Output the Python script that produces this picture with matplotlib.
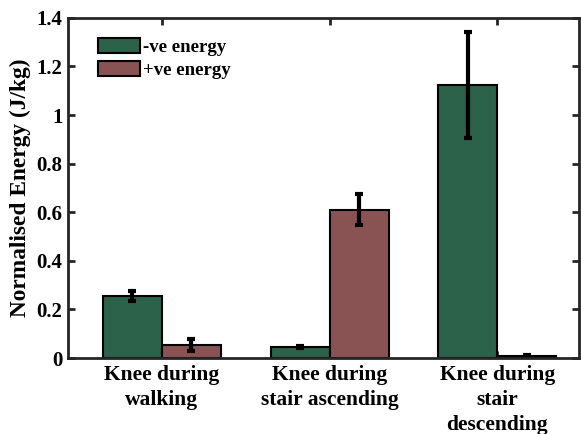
import matplotlib
matplotlib.use("Agg")
import matplotlib.pyplot as plt
import numpy as np

categories = ["Knee during\nwalking", "Knee during\nstair ascending", "Knee during\nstair\ndescending"]
series_names = ["-ve energy", "+ve energy"]
neg_energy = [0.255, 0.045, 1.123]
neg_err = [0.021, 0.005, 0.217]
pos_energy = [0.055, 0.610, 0.008]
pos_err = [0.025, 0.064, 0.006]
y_ticks = [0, 0.2, 0.4, 0.6, 0.8, 1, 1.2, 1.4]
y_tick_labels = ["0", "0.2", "0.4", "0.6", "0.8", "1", "1.2", "1.4"]

green = "#2b6249"
red = "#8a5353"
spine_col = "#262626"

plt.rcParams["font.family"] = ["Liberation Serif", "DejaVu Serif"]
plt.rcParams["font.weight"] = "bold"

fig = plt.figure(figsize=(5.81, 4.34), dpi=100)
ax = fig.add_axes([0.117, 0.175, 0.880, 0.784])

x = np.arange(1, len(categories) + 1)
w = 0.352
err_kw = dict(ecolor="black", elinewidth=3, capsize=3, capthick=3)
ax.bar(x - w / 2, neg_energy, w, color=green, edgecolor="black", linewidth=1.5,
       yerr=neg_err, error_kw=err_kw, label=series_names[0], zorder=2)
ax.bar(x + w / 2, pos_energy, w, color=red, edgecolor="black", linewidth=1.5,
       yerr=pos_err, error_kw=err_kw, label=series_names[1], zorder=2)

ax.set_xlim(0.439, 3.49)
ax.set_ylim(0, 1.4)
ax.set_xticks(x)
ax.set_xticklabels(categories, fontsize=15.5, fontweight="bold", linespacing=1.32)
ax.set_yticks(y_ticks)
ax.set_yticklabels(y_tick_labels, fontsize=15, fontweight="bold")
ax.set_ylabel("Normalised Energy (J/kg)", fontsize=16.8, fontweight="bold", labelpad=4)

for s in ax.spines.values():
    s.set_linewidth(2)
    s.set_color(spine_col)
ax.tick_params(axis="both", direction="in", length=5, width=2, color=spine_col,
               top=True, right=True, pad=4)
ax.tick_params(axis="x", pad=5)

leg = ax.legend(loc="upper left", bbox_to_anchor=(0.045, 0.963), frameon=False,
                prop={"size": 13.5, "weight": "bold"}, handlelength=2.2, handleheight=0.85,
                handletextpad=0.15, labelspacing=0.28, borderaxespad=0.2, borderpad=0.2)
for h in leg.legend_handles:
    h.set_linewidth(1.5)

fig.savefig("out.png", dpi=100)
